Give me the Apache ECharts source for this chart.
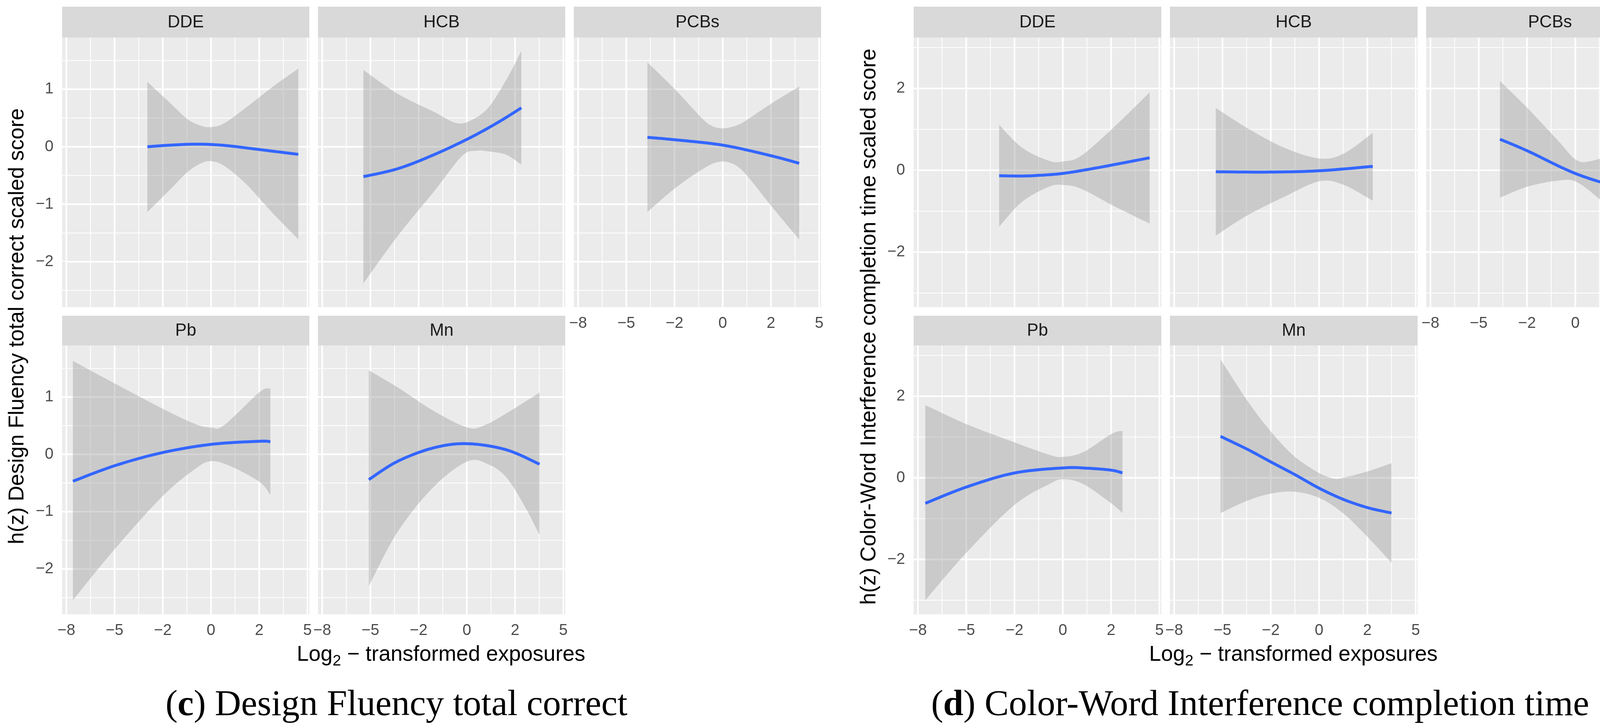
<!DOCTYPE html>
<html><head><meta charset="utf-8">
<script src="https://cdn.jsdelivr.net/npm/echarts@6/dist/echarts.min.js"></script>
<style>html,body{margin:0;padding:0;background:#fff}#chart{width:4298px;height:1863px}</style>
</head><body><div id="chart"></div>
<script>
// ---------- categories / ticks ----------
const exposures = ['DDE', 'HCB', 'PCBs', 'Pb', 'Mn'];
const xTickPositions = [0, 1, 2, 3, 4, 5];
const xTickLabels = ['\u22128', '\u22125', '\u22122', '0', '2', '5'];
const xMinorPositions = [0.5, 1.5, 2.5, 3.5, 4.5];
const yTicksC = [-2, -1, 0, 1];
const yMinorC = [-2.5, -1.5, -0.5, 0.5, 1.5];
const yTicksD = [-2, 0, 2];
const yMinorD = [-3, -1, 1, 3];
const yTitleC = 'h(z) Design Fluency total correct scaled score';
const yTitleD = 'h(z) Color-Word Interference completion time scaled score';
const captionC = ['c', ' Design Fluency total correct'];
const captionD = ['d', ' Color-Word Interference completion time'];

// ---------- (c) Design Fluency: [x position, value] ----------
const cDDE_fit = [[1.68,0.0],[2.15,0.028],[2.71,0.045],[3.27,0.024],[3.87,-0.035],[4.81,-0.132]];
const cDDE_upper = [[1.68,1.128],[2.15,0.763],[2.52,0.475],[2.82,0.358],[3.01,0.344],[3.27,0.406],[3.72,0.677],[4.25,1.024],[4.81,1.36]];
const cDDE_lower = [[1.68,-1.135],[2.15,-0.746],[2.52,-0.434],[2.82,-0.278],[3.01,-0.253],[3.27,-0.33],[3.72,-0.642],[4.25,-1.128],[4.81,-1.61]];

const cHCB_fit = [[0.854,-0.52],[1.567,-0.382],[2.316,-0.139],[3.066,0.156],[3.666,0.434],[4.13,0.677]];
const cHCB_upper = [[0.854,1.336],[1.567,0.92],[2.316,0.607],[2.766,0.416],[3.066,0.451],[3.441,0.677],[3.816,1.163],[4.13,1.666]];
const cHCB_lower = [[0.854,-2.377],[1.567,-1.55],[2.316,-0.78],[2.9,-0.16],[3.2,-0.07],[3.441,-0.08],[3.816,-0.139],[4.13,-0.312]];

const cPCB_fit = [[1.438,0.163],[2.0,0.122],[3.0,0.028],[4.0,-0.156],[4.586,-0.288]];
const cPCB_upper = [[1.438,1.468],[2.0,1.007],[2.561,0.503],[2.77,0.365],[3.0,0.32],[3.264,0.364],[3.47,0.45],[4.0,0.746],[4.586,1.048]];
const cPCB_lower = [[1.438,-1.135],[2.0,-0.729],[2.561,-0.4],[2.892,-0.267],[3.184,-0.288],[3.47,-0.47],[4.0,-1.024],[4.586,-1.614]];

const cPb_fit = [[0.136,-0.469],[1.021,-0.193],[1.996,0.031],[3.01,0.175],[4.006,0.228],[4.231,0.22]];
const cPb_upper = [[0.136,1.629],[1.021,1.229],[1.996,0.797],[2.671,0.529],[3.01,0.467],[3.271,0.508],[4.006,1.085],[4.231,1.147]];
const cPb_lower = [[0.136,-2.542],[1.021,-1.635],[1.996,-0.729],[2.671,-0.254],[3.01,-0.118],[3.421,-0.213],[4.006,-0.481],[4.231,-0.707]];

const cMn_fit = [[0.967,-0.44],[1.567,-0.12],[2.316,0.115],[3.014,0.186],[3.816,0.08],[4.507,-0.172]];
const cMn_upper = [[0.967,1.465],[1.567,1.167],[2.316,0.755],[3.014,0.467],[3.366,0.508],[3.816,0.714],[4.507,1.077]];
const cMn_lower = [[0.967,-2.295],[1.567,-1.347],[2.316,-0.563],[3.014,-0.122],[3.441,-0.172],[3.816,-0.399],[4.191,-0.893],[4.507,-1.408]];

// ---------- (d) Color-Word Interference ----------
const dDDE_fit = [[1.682,-0.134],[2.159,-0.14],[2.491,-0.125],[3.012,-0.075],[3.712,0.061],[4.798,0.305]];
const dDDE_upper = [[1.682,1.11],[2.159,0.55],[2.713,0.232],[3.012,0.218],[3.379,0.354],[4.044,1.037],[4.798,1.905]];
const dDDE_lower = [[1.682,-1.378],[2.159,-0.768],[2.713,-0.402],[3.012,-0.36],[3.379,-0.45],[4.044,-0.865],[4.798,-1.304]];

const dHCB_fit = [[0.862,-0.036],[1.949,-0.044],[3.002,-0.012],[4.112,0.096]];
const dHCB_upper = [[0.862,1.525],[1.505,1.037],[2.282,0.55],[3.002,0.29],[3.502,0.403],[4.112,0.915]];
const dHCB_lower = [[0.862,-1.596],[1.505,-1.109],[2.282,-0.646],[3.002,-0.27],[3.502,-0.353],[4.112,-0.744]];

const dPCB_fit = [[1.44,0.759],[2.005,0.476],[3.015,-0.085],[4.0,-0.45],[4.59,-0.636]];
const dPCB_upper = [[1.44,2.183],[2.005,1.525],[2.627,0.745],[3.015,0.256],[3.348,0.232],[4.0,0.5],[4.59,0.852]];
const dPCB_lower = [[1.44,-0.67],[2.005,-0.402],[2.627,-0.255],[3.015,-0.279],[3.514,-0.719],[4.0,-1.255],[4.59,-2.109]];

const dPb_fit = [[0.153,-0.625],[1.02,-0.219],[2.004,0.12],[3.011,0.243],[3.5,0.236],[4.002,0.188],[4.235,0.12]];
const dPb_upper = [[0.153,1.783],[1.02,1.308],[2.004,0.867],[2.725,0.562],[3.011,0.514],[3.422,0.63],[4.002,1.071],[4.235,1.152]];
const dPb_lower = [[0.153,-3.0],[1.02,-1.814],[2.004,-0.66],[2.725,-0.151],[3.011,-0.035],[3.422,-0.151],[4.002,-0.625],[4.235,-0.863]];

const dMn_fit = [[0.96,1.016],[1.518,0.698],[1.998,0.392],[2.487,0.087],[2.998,-0.252],[3.493,-0.524],[3.997,-0.728],[4.5,-0.863]];
const dMn_upper = [[0.96,2.902],[1.518,1.885],[1.998,1.139],[2.487,0.528],[2.998,0.12],[3.3,-0.015],[3.493,0.0],[3.997,0.155],[4.5,0.358]];
const dMn_lower = [[0.96,-0.863],[1.518,-0.558],[1.998,-0.388],[2.487,-0.34],[2.998,-0.49],[3.493,-0.863],[3.997,-1.44],[4.5,-2.084]];

// ---------- layout ----------
const xRange = [-0.088, 5.04];
const figs = {
  c: { left0: 159, colStep: 655, width: 633, yRange: [-2.79, 1.90], yTicks: yTicksC, yMinor: yMinorC,
       panels: [[cDDE_fit,cDDE_upper,cDDE_lower],[cHCB_fit,cHCB_upper,cHCB_lower],[cPCB_fit,cPCB_upper,cPCB_lower],[cPb_fit,cPb_upper,cPb_lower],[cMn_fit,cMn_upper,cMn_lower]] },
  d: { left0: 2339, colStep: 656, width: 634, yRange: [-3.345, 3.245], yTicks: yTicksD, yMinor: yMinorD,
       panels: [[dDDE_fit,dDDE_upper,dDDE_lower],[dHCB_fit,dHCB_upper,dHCB_lower],[dPCB_fit,dPCB_upper,dPCB_lower],[dPb_fit,dPb_upper,dPb_lower],[dMn_fit,dMn_upper,dMn_lower]] }
};
const rows = [
  { stripTop: 17, stripH: 79, top: 96, height: 690 },
  { stripTop: 808, stripH: 76, top: 884, height: 688 }
];
const SANS = "'Liberation Sans', Arial, sans-serif";
const SERIF = "'Liberation Serif', 'Times New Roman', serif";

function fmtNum(v) { return v < 0 ? '\u2212' + Math.abs(v) : String(v); }

function catmull(pts) {
  if (pts.length < 3) return pts.slice();
  const out = [];
  const n = pts.length;
  for (let i = 0; i < n - 1; i++) {
    const p0 = pts[Math.max(0, i - 1)], p1 = pts[i], p2 = pts[i + 1], p3 = pts[Math.min(n - 1, i + 2)];
    const steps = 14;
    for (let s = 0; s < steps; s++) {
      const t = s / steps, t2 = t * t, t3 = t2 * t;
      out.push([
        0.5 * ((2 * p1[0]) + (-p0[0] + p2[0]) * t + (2 * p0[0] - 5 * p1[0] + 4 * p2[0] - p3[0]) * t2 + (-p0[0] + 3 * p1[0] - 3 * p2[0] + p3[0]) * t3),
        0.5 * ((2 * p1[1]) + (-p0[1] + p2[1]) * t + (2 * p0[1] - 5 * p1[1] + 4 * p2[1] - p3[1]) * t2 + (-p0[1] + 3 * p1[1] - 3 * p2[1] + p3[1]) * t3)
      ]);
    }
  }
  out.push(pts[n - 1]);
  return out;
}

const grids = [], xAxes = [], yAxes = [], series = [], graphics = [];
let gi = 0;
Object.keys(figs).forEach(key => {
  const f = figs[key];
  exposures.forEach((name, i) => {
    const row = i < 3 ? 0 : 1;
    const col = i < 3 ? i : i - 3;
    const R = rows[row];
    const left = f.left0 + f.colStep * col;
    grids.push({ left: left, top: R.top, width: f.width, height: R.height, show: true,
                 backgroundColor: '#EBEBEB', borderWidth: 0, containLabel: false });
    const showX = row === 1 || col === 2;
    const showY = col === 0;
    xAxes.push({
      type: 'value', gridIndex: gi, min: xRange[0], max: xRange[1],
      axisLine: { show: false }, splitLine: { show: false }, minorSplitLine: { show: false },
      axisTick: { show: showX, length: 10, customValues: xTickPositions, lineStyle: { color: '#333333', width: 3 } },
      axisLabel: { show: showX, customValues: xTickPositions, margin: 22, fontSize: 40, color: '#4D4D4D', fontFamily: SANS,
        formatter: v => { const k = xTickPositions.indexOf(Math.round(v * 1000) / 1000); return k >= 0 ? xTickLabels[k] : ''; } }
    });
    yAxes.push({
      type: 'value', gridIndex: gi, min: f.yRange[0], max: f.yRange[1],
      axisLine: { show: false }, splitLine: { show: false }, minorSplitLine: { show: false },
      axisTick: { show: showY, length: 10, customValues: f.yTicks, lineStyle: { color: '#333333', width: 3 } },
      axisLabel: { show: showY, customValues: f.yTicks, margin: 22, fontSize: 40, color: '#4D4D4D', fontFamily: SANS,
        formatter: v => { const r = Math.round(v * 1000) / 1000; return f.yTicks.indexOf(r) >= 0 ? fmtNum(r) : ''; } }
    });
    const [fit, upper, lower] = f.panels[i];
    const yR = f.yRange, yMaj = f.yTicks, yMin = f.yMinor;
    // grid lines
    series.push({
      type: 'custom', xAxisIndex: gi, yAxisIndex: gi, z: 1, silent: true, data: [[0, 0]],
      renderItem: (params, api) => {
        const ch = [];
        const v = (x, w) => { const a = api.coord([x, yR[0]]), b = api.coord([x, yR[1]]);
          ch.push({ type: 'line', shape: { x1: a[0], y1: a[1], x2: b[0], y2: b[1] }, style: { stroke: '#FFFFFF', lineWidth: w } }); };
        const h = (y, w) => { const a = api.coord([xRange[0], y]), b = api.coord([xRange[1], y]);
          ch.push({ type: 'line', shape: { x1: a[0], y1: a[1], x2: b[0], y2: b[1] }, style: { stroke: '#FFFFFF', lineWidth: w } }); };
        xMinorPositions.forEach(x => v(x, 2));
        yMin.forEach(y => h(y, 2));
        xTickPositions.forEach(x => v(x, 4.2));
        yMaj.forEach(y => h(y, 4.2));
        return { type: 'group', children: ch };
      }
    });
    // confidence ribbon
    series.push({
      type: 'custom', xAxisIndex: gi, yAxisIndex: gi, z: 2, silent: true, data: [[0, 0]],
      renderItem: (params, api) => {
        const up = catmull(upper.map(p => api.coord(p)));
        const lo = catmull(lower.map(p => api.coord(p)).reverse());
        return { type: 'polygon', shape: { points: up.concat(lo) }, style: { fill: 'rgba(153,153,153,0.4)' } };
      }
    });
    // fitted line
    series.push({
      type: 'custom', xAxisIndex: gi, yAxisIndex: gi, z: 3, silent: true, data: [[0, 0]],
      renderItem: (params, api) => {
        const pts = catmull(fit.map(p => api.coord(p)));
        return { type: 'polyline', shape: { points: pts },
                 style: { stroke: '#3366FF', lineWidth: 7.5, fill: null, lineJoin: 'round', lineCap: 'butt' } };
      }
    });
    // strip
    graphics.push({ type: 'rect', shape: { x: left, y: R.stripTop, width: f.width, height: R.stripH },
                    style: { fill: '#D9D9D9' }, silent: true });
    graphics.push({ type: 'text', x: left + f.width / 2, y: R.stripTop + R.stripH / 2 + 1,
                    style: { text: name, fill: '#1A1A1A', fontSize: 44, fontFamily: SANS, align: 'center', verticalAlign: 'middle' }, silent: true });
    gi++;
  });
});

// axis titles
graphics.push({ type: 'text', x: 45, y: 835, rotation: Math.PI / 2,
  style: { text: yTitleC, fill: '#000', fontSize: 55, fontFamily: SANS, align: 'center', verticalAlign: 'middle' } });
graphics.push({ type: 'text', x: 2226, y: 836, rotation: Math.PI / 2,
  style: { text: yTitleD, fill: '#000', fontSize: 55, fontFamily: SANS, align: 'center', verticalAlign: 'middle' } });
const xTitleRich = { t: { fontSize: 55, fontFamily: SANS, color: '#000', lineHeight: 72 },
                     s: { fontSize: 39, fontFamily: SANS, color: '#000', lineHeight: 39, verticalAlign: 'bottom' } };
[1129, 3311].forEach(cx => {
  graphics.push({ type: 'text', x: cx, y: 1676,
    style: { text: '{t|Log}{s|2}{t| \u2212 transformed exposures}', rich: xTitleRich, align: 'center', verticalAlign: 'middle' } });
});
// captions
const capRich = { p: { fontSize: 93, fontFamily: SERIF, color: '#000' },
                  b: { fontSize: 93, fontFamily: SERIF, fontWeight: 'bold', color: '#000' } };
graphics.push({ type: 'text', x: 1015, y: 1806,
  style: { text: '{p|(}{b|' + captionC[0] + '}{p|)' + captionC[1] + '}', rich: capRich, align: 'center', verticalAlign: 'middle' } });
graphics.push({ type: 'text', x: 3226, y: 1806,
  style: { text: '{p|(}{b|' + captionD[0] + '}{p|)' + captionD[1] + '}', rich: capRich, align: 'center', verticalAlign: 'middle' } });

const chart = echarts.init(document.getElementById('chart'), null, { renderer: 'canvas' });
chart.setOption({
  backgroundColor: '#FFFFFF',
  animation: false,
  grid: grids, xAxis: xAxes, yAxis: yAxes, series: series,
  graphic: { elements: graphics }
});
</script></body></html>
